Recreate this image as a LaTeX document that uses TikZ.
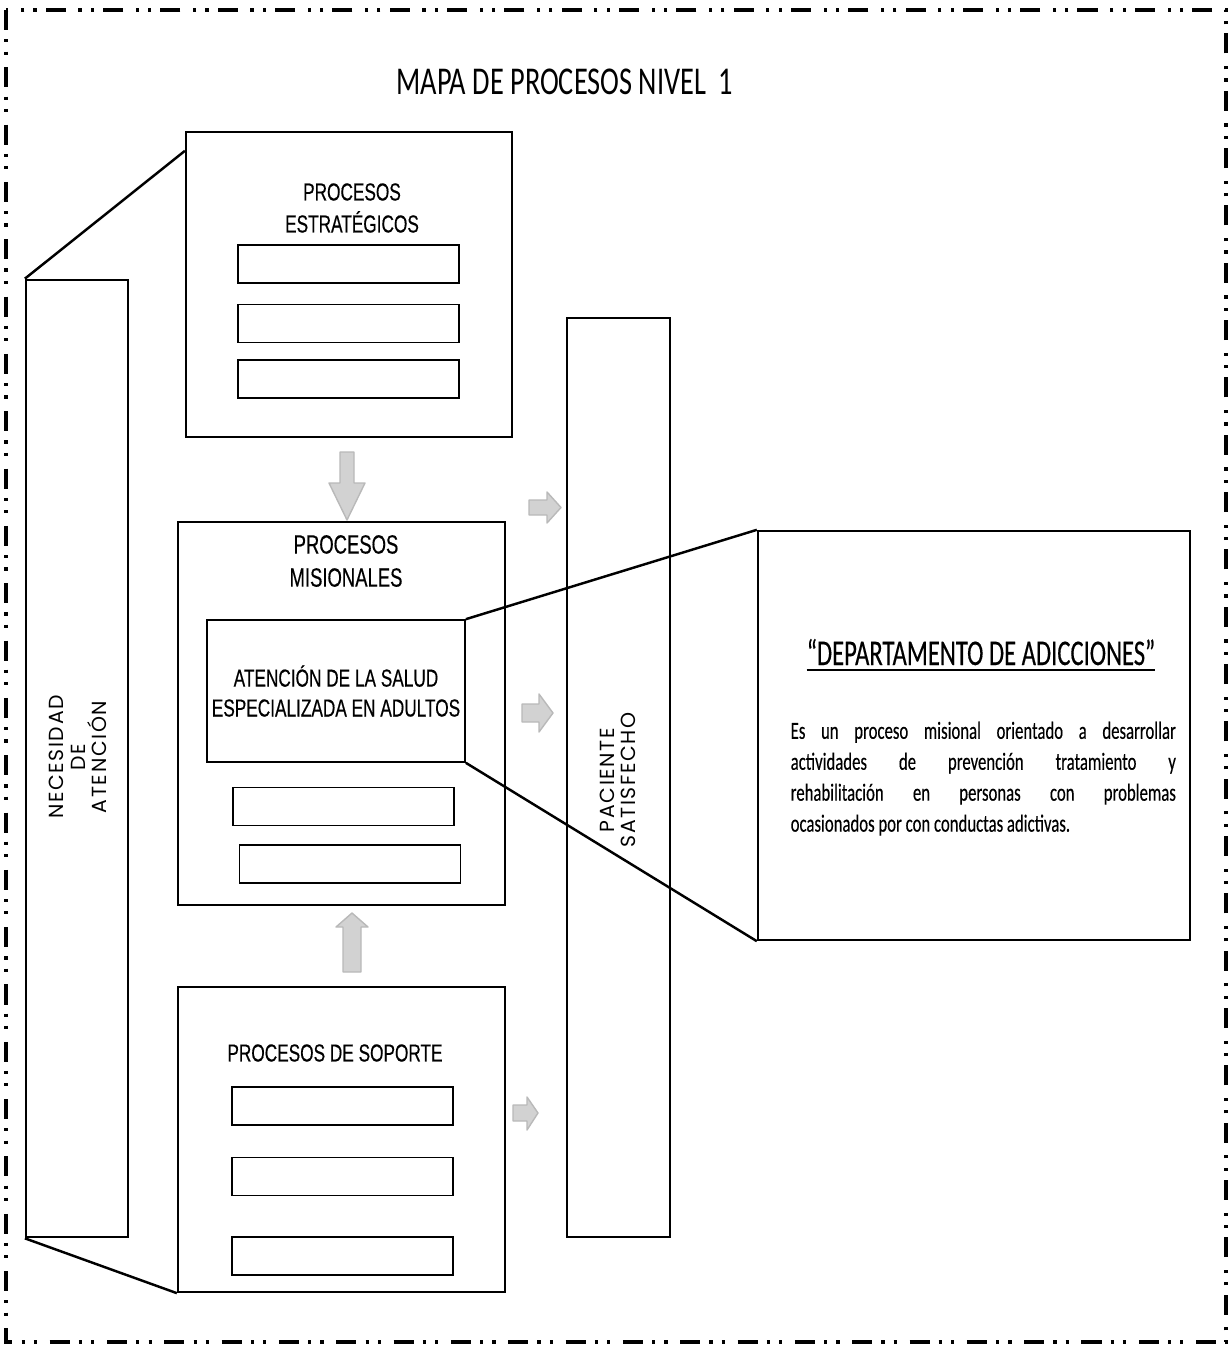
\documentclass[tikz,border=0pt]{standalone}
\usepackage{fontspec}
\setmainfont{Liberation Sans}[FakeStretch=0.70, FakeBold=0.4]
\newfontfamily\calibfont{Carlito}[FakeStretch=0.72]
\newfontfamily\descfont{Carlito}[FakeStretch=0.68, FakeBold=0.3]
\newfontfamily\gothfont{Poppins}[LetterSpace=8]
\usetikzlibrary{positioning}

\begin{document}
\begin{tikzpicture}[x=0.01cm, y=-0.01cm,
        box/.style={draw, line width=0.6pt, inner sep=0pt},
        slot/.style={draw, line width=0.45pt, minimum width=2.21cm, minimum height=0.38cm, inner sep=0pt},
        garrow/.style={draw=gray!55, fill=gray!35, line width=0.4pt, line join=round},
        link/.style={line width=0.7pt},
        frame/.style={line width=0.9pt, dash pattern=on 5.7pt off 2.6pt on 0.9pt off 2.6pt on 0.9pt off 3.6pt},
        vtext/.style={rotate=90, align=center, font=\gothfont\fontsize{5.8}{6.1}\selectfont},
        boxtext/.style={align=center, font=\fontsize{7}{9.1}\selectfont}]
        \useasboundingbox (0,0) rectangle (1229,1348);
        \draw[frame] (6,10) rectangle (1226,1342);

        \node (title) at (565,82) {\calibfont\fontsize{11.2}{13}\selectfont MAPA DE PROCESOS NIVEL~~1};

        % big boxes
        \node (nec) [box, minimum width=1.02cm, minimum height=9.57cm] at (77,758.5) {};
        \node (estr) [box, minimum width=3.26cm, minimum height=3.05cm] at (349,284.5) {};
        \node (mis) [box, minimum width=3.27cm, minimum height=3.83cm] at (341.5,713.5) {};
        \node (sop) [box, minimum width=3.27cm, minimum height=3.05cm] at (341.5,1139.5) {};
        \node (pac) [box, minimum width=1.03cm, minimum height=9.19cm] at (618.5,777.5) {};
        \node (dept) [box, minimum width=4.32cm, minimum height=4.09cm] at (974,735.5) {};

        \node (nectxt) [vtext] at (78,757) {NECESIDAD\\DE\\ATENCIÓN};
        \node (pactxt) [vtext] at (618,780) {PACIENTE\\SATISFECHO};

        % estrategicos
        \node (estrtxt) [boxtext] at (352,208) {PROCESOS\\ESTRATÉGICOS};
        \node (estr1) [slot] at (348.5,264) {};
        \node (estr2) [slot, below=0.2cm of estr1] {};
        \node (estr3) [slot, below=0.16cm of estr2] {};

        % misionales
        \node (mistxt) [boxtext, font=\fontsize{7.5}{9.4}\selectfont] at (346,561) {PROCESOS\\MISIONALES};
        \node (atn) [box, line width=0.45pt, minimum width=2.58cm, minimum height=1.42cm,
            boxtext, font=\fontsize{7}{8.5}\selectfont] at (336,691) {ATENCIÓN DE LA SALUD\\ESPECIALIZADA EN ADULTOS};
        \node (mis1) [slot] at (343.5,806.5) {};
        \node (mis2) [slot, below=0.18cm of mis1, xshift=0.065cm] {};

        % soporte
        \node (soptxt) [boxtext] at (335,1053) {PROCESOS DE SOPORTE};
        \node (sop1) [slot] at (342.5,1106) {};
        \node (sop2) [slot, below=0.31cm of sop1] {};
        \node (sop3) [slot, below=0.40cm of sop2] {};

        % departamento
        \node (depttitle) [anchor=base] at (981,665) {\descfont\fontsize{10.3}{12}\selectfont\underline{“DEPARTAMENTO DE ADICCIONES”}};
        \node (desc) [anchor=north west, text width=3.85cm, inner sep=0pt, align=justify,
            font=\descfont\fontsize{7}{8.8}\selectfont] at (790,721)
            {Es un proceso misional orientado a desarrollar\linebreak
             actividades de prevención tratamiento y\linebreak
             rehabilitación en personas con problemas\linebreak
             ocasionados por con conductas adictivas.};

        % gray arrows
        \draw[garrow] (340,452) -- (354,452) -- (354,483) -- (365,483) -- (347,520) -- (329,483) -- (340,483) -- cycle;
        \draw[garrow] (352,913) -- (368,927) -- (361,927) -- (361,972) -- (343,972) -- (343,927) -- (336,927) -- cycle;
        \draw[garrow] (529,500) -- (547,500) -- (547,492) -- (561,507.5) -- (547,523) -- (547,515) -- (529,515) -- cycle;
        \draw[garrow] (522,704) -- (539,704) -- (539,694) -- (553,713) -- (539,732) -- (539,722) -- (522,722) -- cycle;
        \draw[garrow] (513,1105) -- (527,1105) -- (527,1097) -- (538,1113) -- (527,1130) -- (527,1121) -- (513,1121) -- cycle;

        % connecting lines
        \draw[link] (nec.north west) -- ([yshift=-0.2cm]estr.north west);
        \draw[link] (nec.south west) -- (sop.south west);
        \draw[link] (atn.north east) -- (dept.north west);
        \draw[link] (atn.south east) -- (dept.south west);
    \end{tikzpicture}
\end{document}
